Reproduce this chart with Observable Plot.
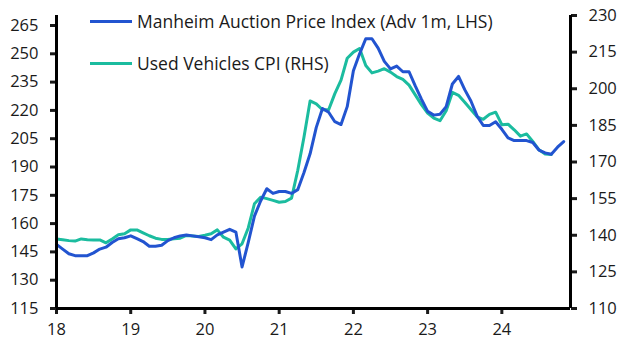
<!DOCTYPE html>
<html><head><meta charset="utf-8">
<script src="https://cdn.jsdelivr.net/npm/d3@7"></script>
<script src="https://cdn.jsdelivr.net/npm/@observablehq/plot@0.6"></script>
<style>
body{margin:0;background:#fff;}
#wrap{position:relative;width:628px;height:353px;font-family:"Open Sans",sans-serif;}
.leg{position:absolute;left:90px;height:22px;display:flex;align-items:center;font-size:17.5px;color:#1a1a1a;white-space:nowrap;}
.leg .sw{display:inline-block;width:42px;height:3px;margin-right:5px;}
</style></head>
<body><div id="wrap"></div>
<script>
// Monthly series starting Jan 2018
const startYear = 2018;
const manheimLabel = "Manheim Auction Price Index (Adv 1m, LHS)";
const cpiLabel = "Used Vehicles CPI (RHS)";
const manheim = [
 149,146.5,144,143,143,143,144.5,146.5,147.5,150,152,152.5,
 153.5,152,150.5,148,148,148.5,151,152.5,153.5,154,153.5,153,
 152.5,151.5,154,155.5,157,155.5,137,150,164,172,178.5,176,
 177,177,176,178,187,197,211,221,219,214,212.5,222,
 241,250,258,258,253,246,242,243.5,240.5,240.5,233,226,
 219.5,217.5,218,222,234,238,231,225,217,212,212,214,
 210,205.5,204,204,204,203,199,197.5,196.8,200.5,203.5
];
const cpi = [
 138.5,138.2,137.8,137.6,138.5,138.2,138.1,138.1,136.9,138.5,140.2,140.6,
 142.2,142.2,141,139.8,138.8,138.3,138.3,138.6,138.8,139.9,139.7,139.5,
 140,140.6,142.2,139.2,138,134.4,136.5,143,152.9,155.6,155,154.3,
 153.5,153.8,155.2,166.5,180,195,193.8,191.4,191.4,198,203.5,212.5,
 215,216.5,209.5,206.5,207.2,208.2,206.8,205,203.8,201.5,197.5,193.5,
 190,188,186.9,191,198.5,197.3,194.5,191.5,188.5,187.5,189.5,190.4,
 185.3,185.5,183.2,180.6,181.5,178.4,175,173.3,173.1
];
const xTicks = [2018,2019,2020,2021,2022,2023,2024];
const leftTicks = [115,130,145,160,175,190,205,220,235,250,265];
const rightTicks = [110,125,140,155,170,185,200,215,230];

const blue = "#2254D0", teal = "#1BBC9F";
// left (LHS) axis expressed on the RHS scale
const lhsBase = 115, rhsBase = 110, k = 115.9/150;
const toR = L => rhsBase + (L - lhsBase) * k;
const toL = R => lhsBase + (R - rhsBase) / k;

const mData = manheim.map((v,i)=>({x:startYear + i/12, v:toR(v)}));
const cData = cpi.map((v,i)=>({x:startYear + i/12, v}));
const xMax = 2024.925;

const chart = Plot.plot({
  width:628, height:353,
  marginLeft:56, marginRight:58, marginTop:15, marginBottom:45,
  style:{fontFamily:'"Open Sans",sans-serif', fontSize:"16.5px", color:"#1a1a1a", background:"#fff"},
  x:{domain:[startYear, xMax]},
  y:{domain:[110,230]},
  marks:[
    Plot.axisX({ticks:xTicks, tickFormat:d=>String(d).slice(2), tickSize:6, tickPadding:9, strokeWidth:3, label:null, fontSize:16.5}),
    Plot.axisY({anchor:"left", ticks:leftTicks.map(toR), tickFormat:d=>String(Math.round(toL(d))), tickSize:6, tickPadding:12, strokeWidth:3, label:null, fontSize:16.5}),
    Plot.axisY({anchor:"right", ticks:rightTicks, tickSize:6, tickPadding:12, strokeWidth:3, label:null, fontSize:16.5}),
    Plot.line(cData,{x:"x", y:"v", stroke:teal, strokeWidth:3, strokeLinejoin:"round"}),
    Plot.line(mData,{x:"x", y:"v", stroke:blue, strokeWidth:3, strokeLinejoin:"round"}),
    Plot.ruleY([110],{stroke:"#000", strokeWidth:3}),
    Plot.ruleX([startYear],{stroke:"#000", strokeWidth:3}),
    Plot.ruleX([xMax],{stroke:"#000", strokeWidth:3})
  ]
});
const wrap = document.getElementById("wrap");
wrap.appendChild(chart);
[[manheimLabel, blue, 10],[cpiLabel, teal, 52]].forEach(([t,c,top])=>{
  const d = document.createElement("div");
  d.className = "leg"; d.style.top = top + "px";
  const s = document.createElement("span"); s.className="sw"; s.style.background=c;
  d.appendChild(s); d.appendChild(document.createTextNode(t));
  wrap.appendChild(d);
});
</script>
</body></html>
